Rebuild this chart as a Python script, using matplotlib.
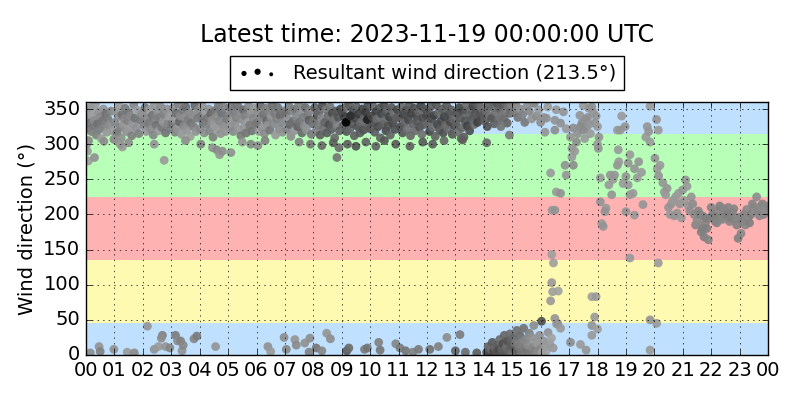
import matplotlib
matplotlib.use("Agg")
import matplotlib.pyplot as plt
import numpy as np

plt.style.use("classic")

# ---- northerly band, 00-16 UTC (time in hours, direction in deg, gray level 0=black 1=white)
north_t = [
    0.01, 0.04, 0.07, 0.09, 0.12, 0.16, 0.19, 0.22, 0.26, 0.29, 0.33, 0.36, 0.40, 0.43, 0.47, 0.51, 0.54, 0.58, 0.61, 0.65, 0.69, 0.73, 0.77, 0.82, 0.88, 0.94, 0.03, 0.05, 0.08, 0.30, 0.63, 0.98,
    1.02, 1.05, 1.09, 1.13, 1.16, 1.20, 1.24, 1.27, 1.31, 1.35, 1.38, 1.42, 1.46, 1.50, 1.53, 1.57, 1.61, 1.65, 1.68, 1.72, 1.77, 1.81, 1.86, 1.91, 1.96, 1.00, 1.28, 1.50, 1.20,
    2.01, 2.05, 2.08, 2.12, 2.17, 2.21, 2.24, 2.28, 2.33, 2.37, 2.40, 2.44, 2.48, 2.52, 2.56, 2.60, 2.63, 2.67, 2.71, 2.75, 2.80, 2.84, 2.88, 2.93, 2.97, 2.40, 2.75,
    3.02, 3.06, 3.10, 3.13, 3.17, 3.21, 3.25, 3.29, 3.32, 3.36, 3.40, 3.44, 3.48, 3.51, 3.55, 3.59, 3.63, 3.67, 3.70, 3.74, 3.79, 3.83, 3.87, 3.92, 3.96, 3.50,
    4.01, 4.05, 4.09, 4.12, 4.16, 4.20, 4.24, 4.28, 4.32, 4.35, 4.39, 4.43, 4.47, 4.51, 4.55, 4.58, 4.62, 4.66, 4.70, 4.74, 4.78, 4.83, 4.87, 4.91, 4.96, 4.04, 4.45, 4.60, 4.70, 4.80,
    5.02, 5.06, 5.10, 5.14, 5.18, 5.21, 5.25, 5.29, 5.33, 5.37, 5.41, 5.45, 5.49, 5.53, 5.56, 5.60, 5.64, 5.68, 5.72, 5.76, 5.80, 5.84, 5.89, 5.93, 5.97, 5.10, 5.80, 5.50,
    6.01, 6.05, 6.09, 6.13, 6.16, 6.20, 6.24, 6.28, 6.32, 6.36, 6.40, 6.43, 6.47, 6.51, 6.55, 6.59, 6.63, 6.67, 6.71, 6.75, 6.79, 6.84, 6.88, 6.92, 6.96, 6.05, 6.30,
    7.02, 7.06, 7.10, 7.14, 7.17, 7.21, 7.25, 7.29, 7.33, 7.37, 7.41, 7.45, 7.49, 7.52, 7.56, 7.60, 7.64, 7.68, 7.72, 7.76, 7.80, 7.85, 7.89, 7.93, 7.97, 7.50, 7.90,
    8.01, 8.05, 8.09, 8.13, 8.17, 8.20, 8.24, 8.28, 8.32, 8.36, 8.40, 8.44, 8.48, 8.52, 8.55, 8.59, 8.63, 8.67, 8.71, 8.75, 8.79, 8.83, 8.88, 8.92, 8.96, 8.30, 8.70, 8.90, 8.83,
    9.02, 9.05, 9.09, 9.13, 9.17, 9.21, 9.25, 9.29, 9.33, 9.36, 9.40, 9.44, 9.48, 9.52, 9.56, 9.60, 9.64, 9.68, 9.72, 9.76, 9.80, 9.84, 9.88, 9.92, 9.96, 9.15, 9.90, 9.30, 9.20, 9.50, 9.85,
    10.01, 10.05, 10.09, 10.13, 10.16, 10.20, 10.24, 10.28, 10.32, 10.36, 10.40, 10.44, 10.48, 10.52, 10.56, 10.59, 10.63, 10.67, 10.71, 10.75, 10.79, 10.83, 10.88, 10.92, 10.96, 10.20, 10.50, 10.90,
    11.02, 11.06, 11.10, 11.14, 11.18, 11.22, 11.26, 11.30, 11.34, 11.38, 11.42, 11.46, 11.50, 11.54, 11.58, 11.62, 11.66, 11.70, 11.74, 11.78, 11.82, 11.86, 11.90, 11.94, 11.98, 11.40, 11.85,
    12.01, 12.05, 12.09, 12.13, 12.17, 12.21, 12.25, 12.29, 12.33, 12.37, 12.41, 12.45, 12.49, 12.53, 12.57, 12.61, 12.65, 12.69, 12.73, 12.77, 12.81, 12.85, 12.89, 12.93, 12.97, 12.60, 12.20,
    13.02, 13.06, 13.10, 13.14, 13.18, 13.22, 13.26, 13.30, 13.34, 13.38, 13.42, 13.46, 13.50, 13.54, 13.58, 13.62, 13.66, 13.70, 13.74, 13.78, 13.82, 13.86, 13.90, 13.94, 13.98, 13.20, 13.25,
    14.03, 14.08, 14.12, 14.17, 14.22, 14.27, 14.32, 14.37, 14.42, 14.47, 14.52, 14.57, 14.62, 14.67, 14.72, 14.77, 14.82, 14.87, 14.92, 14.97, 14.10, 14.90, 14.60,
    15.05, 15.12, 15.20, 15.28, 15.36, 15.44, 15.52, 15.60, 15.68, 15.77, 15.85, 15.93,
]
north_dir = [
    338, 322, 345, 305, 330, 352, 318, 341, 326, 334, 357, 313, 329, 346, 321, 339, 308, 333, 350, 325, 343, 317, 336, 328, 347, 319, 300, 290, 276, 281, 304, 307,
    331, 347, 316, 339, 355, 324, 309, 342, 328, 336, 351, 318, 333, 345, 321, 340, 312, 329, 356, 337, 323, 348, 315, 334, 343, 307, 296, 302, 300,
    344, 326, 352, 318, 337, 330, 349, 321, 341, 313, 356, 335, 327, 346, 319, 338, 353, 324, 332, 343, 316, 350, 329, 340, 322, 300, 277,
    329, 351, 336, 317, 344, 323, 357, 332, 340, 314, 348, 326, 338, 353, 320, 335, 345, 311, 330, 342, 325, 355, 318, 337, 349, 305,
    322, 340, 355, 331, 316, 346, 328, 337, 350, 319, 343, 334, 310, 326, 348, 339, 321, 356, 333, 315, 344, 327, 352, 318, 336, 300, 295, 292, 285, 290,
    341, 325, 353, 333, 318, 347, 329, 338, 356, 321, 344, 312, 335, 349, 324, 340, 316, 331, 354, 327, 343, 319, 337, 351, 328, 288, 300, 303,
    330, 346, 318, 355, 337, 324, 342, 315, 351, 333, 327, 348, 320, 339, 356, 329, 344, 313, 336, 352, 322, 341, 331, 317, 347, 298, 305,
    343, 321, 336, 354, 328, 311, 347, 333, 319, 350, 339, 325, 356, 331, 345, 316, 338, 326, 352, 320, 341, 334, 348, 314, 329, 303, 300,
    334, 352, 318, 341, 327, 346, 313, 337, 355, 323, 331, 349, 316, 340, 328, 353, 321, 344, 335, 309, 347, 326, 338, 319, 350, 298, 302, 295, 281,
    345, 327, 339, 352, 318, 334, 356, 322, 341, 329, 348, 312, 337, 353, 325, 343, 316, 331, 350, 320, 338, 346, 323, 355, 333, 331, 335, 340, 300, 297, 303,
    322, 340, 354, 331, 317, 346, 336, 325, 351, 309, 343, 328, 356, 334, 319, 348, 326, 339, 313, 352, 330, 344, 321, 337, 349, 297, 305, 300,
    338, 325, 353, 316, 342, 331, 348, 321, 335, 356, 312, 344, 329, 351, 319, 340, 333, 346, 324, 355, 314, 337, 328, 350, 341, 297, 303,
    347, 330, 318, 353, 336, 324, 341, 311, 356, 328, 345, 320, 333, 350, 316, 339, 327, 355, 322, 343, 332, 349, 314, 336, 326, 305, 300,
    329, 344, 317, 352, 337, 323, 348, 310, 333, 356, 326, 341, 319, 349, 335, 354, 328, 344, 339, 331, 357, 346, 336, 351, 342, 308, 306,
    333, 348, 325, 356, 340, 337, 352, 329, 345, 358, 334, 350, 341, 355, 338, 347, 330, 353, 344, 357, 302, 313, 325,
    345, 356, 338, 350, 342, 331, 354, 347, 336, 358, 340, 349,
]
north_gray = [
    0.55, 0.48, 0.60, 0.52, 0.45, 0.58, 0.50, 0.62, 0.47, 0.55, 0.60, 0.50, 0.44, 0.57, 0.49, 0.53, 0.61, 0.46, 0.58, 0.51, 0.44, 0.59, 0.48, 0.55, 0.52, 0.60, 0.58, 0.60, 0.62, 0.56, 0.55, 0.52,
    0.52, 0.58, 0.47, 0.55, 0.61, 0.50, 0.56, 0.44, 0.59, 0.53, 0.48, 0.57, 0.51, 0.46, 0.60, 0.54, 0.49, 0.58, 0.52, 0.45, 0.56, 0.61, 0.50, 0.47, 0.55, 0.57, 0.60, 0.55, 0.58,
    0.57, 0.50, 0.45, 0.59, 0.53, 0.48, 0.61, 0.55, 0.46, 0.52, 0.58, 0.50, 0.44, 0.56, 0.60, 0.49, 0.54, 0.47, 0.58, 0.51, 0.45, 0.57, 0.52, 0.60, 0.48, 0.58, 0.60,
    0.46, 0.55, 0.60, 0.51, 0.43, 0.57, 0.50, 0.38, 0.54, 0.59, 0.47, 0.52, 0.56, 0.42, 0.58, 0.49, 0.53, 0.61, 0.45, 0.55, 0.50, 0.40, 0.57, 0.48, 0.53, 0.55,
    0.53, 0.48, 0.58, 0.44, 0.55, 0.61, 0.50, 0.46, 0.57, 0.52, 0.41, 0.56, 0.49, 0.59, 0.45, 0.54, 0.60, 0.47, 0.52, 0.57, 0.43, 0.55, 0.50, 0.58, 0.46, 0.50, 0.56, 0.53, 0.58, 0.55,
    0.50, 0.56, 0.45, 0.60, 0.53, 0.48, 0.57, 0.51, 0.44, 0.59, 0.54, 0.47, 0.55, 0.42, 0.58, 0.50, 0.46, 0.61, 0.53, 0.48, 0.56, 0.45, 0.52, 0.59, 0.49, 0.56, 0.52, 0.58,
    0.47, 0.55, 0.60, 0.42, 0.52, 0.57, 0.45, 0.54, 0.49, 0.40, 0.58, 0.51, 0.46, 0.56, 0.43, 0.53, 0.48, 0.59, 0.50, 0.44, 0.55, 0.41, 0.52, 0.57, 0.47, 0.55, 0.50,
    0.44, 0.52, 0.57, 0.48, 0.40, 0.55, 0.50, 0.43, 0.58, 0.46, 0.53, 0.38, 0.51, 0.45, 0.56, 0.41, 0.49, 0.54, 0.42, 0.57, 0.47, 0.36, 0.52, 0.48, 0.44, 0.50, 0.45,
    0.45, 0.38, 0.50, 0.33, 0.47, 0.41, 0.36, 0.52, 0.30, 0.44, 0.39, 0.48, 0.35, 0.42, 0.31, 0.46, 0.37, 0.29, 0.43, 0.40, 0.34, 0.49, 0.32, 0.38, 0.27, 0.40, 0.36, 0.42, 0.45,
    0.30, 0.38, 0.25, 0.42, 0.33, 0.28, 0.36, 0.40, 0.22, 0.34, 0.29, 0.37, 0.26, 0.39, 0.31, 0.24, 0.35, 0.41, 0.27, 0.32, 0.38, 0.23, 0.36, 0.30, 0.34, 0.00, 0.12, 0.18, 0.36, 0.32, 0.38,
    0.34, 0.27, 0.40, 0.31, 0.36, 0.24, 0.42, 0.29, 0.33, 0.38, 0.26, 0.35, 0.30, 0.41, 0.28, 0.37, 0.32, 0.25, 0.39, 0.34, 0.28, 0.43, 0.31, 0.36, 0.27, 0.38, 0.33, 0.35,
    0.36, 0.29, 0.41, 0.33, 0.26, 0.38, 0.31, 0.44, 0.28, 0.35, 0.40, 0.24, 0.37, 0.30, 0.42, 0.27, 0.34, 0.39, 0.32, 0.25, 0.43, 0.29, 0.36, 0.33, 0.28, 0.37, 0.34,
    0.32, 0.40, 0.27, 0.36, 0.30, 0.43, 0.25, 0.38, 0.33, 0.28, 0.41, 0.35, 0.29, 0.37, 0.31, 0.26, 0.39, 0.34, 0.42, 0.30, 0.27, 0.36, 0.33, 0.40, 0.28, 0.40, 0.36,
    0.38, 0.31, 0.44, 0.27, 0.35, 0.40, 0.29, 0.36, 0.33, 0.42, 0.26, 0.37, 0.30, 0.39, 0.34, 0.28, 0.41, 0.32, 0.36, 0.25, 0.38, 0.33, 0.30, 0.43, 0.35, 0.40, 0.36,
    0.36, 0.42, 0.31, 0.39, 0.45, 0.34, 0.40, 0.37, 0.44, 0.33, 0.41, 0.38, 0.46, 0.35, 0.43, 0.48, 0.39, 0.45, 0.42, 0.50, 0.40, 0.48, 0.45,
    0.48, 0.52, 0.45, 0.55, 0.50, 0.47, 0.56, 0.53, 0.58, 0.51, 0.55, 0.60,
]

# ---- directions just past north (0-45 deg), 00-16.5 UTC
low_t = [
    0.15, 0.46, 0.50, 0.98, 1.45, 1.70, 2.16, 2.40, 2.55, 2.69, 2.65, 2.80, 2.95, 3.15, 3.22, 3.33, 3.38, 3.42, 3.80, 3.90,
    4.56, 6.40, 6.50, 6.97, 7.05, 7.35, 7.40, 7.70, 7.85, 7.88, 8.10, 8.30, 8.47, 8.60, 9.18, 9.25, 9.80, 9.90, 10.30, 10.35,
    10.90, 11.05, 11.25, 11.50, 11.70, 12.10, 12.40, 12.70, 13.00, 13.16, 13.35, 13.75,
    14.10, 14.15, 14.20, 14.26, 14.30, 14.35, 14.40, 14.44, 14.48, 14.52, 14.56, 14.60, 14.64, 14.68, 14.72, 14.76, 14.80, 14.84, 14.88, 14.92,
    14.96, 15.00, 15.04, 15.08, 15.12, 15.16, 15.20, 15.24, 15.28, 15.32, 15.36, 15.40, 15.44, 15.48, 15.52, 15.56, 15.60, 15.64, 15.68, 15.72,
    15.76, 15.80, 15.84, 15.88, 15.92, 15.96, 16.00, 16.05, 16.10, 16.15, 16.20, 16.26, 16.32, 16.38, 16.44,
]
low_dir = [
    3, 12, 5, 8, 4, 3, 41, 8, 12, 28, 24, 12, 10, 28, 20, 20, 6, 14, 23, 27,
    12, 12, 5, 25, 8, 22, 14, 17, 4, 24, 10, 6, 31, 23, 6, 10, 8, 10, 18, 7,
    16, 10, 6, 4, 8, 8, 12, 25, 6, 29, 4, 3,
    4, 12, 2, 8, 18, 5, 10, 3, 14, 7, 22, 1, 9, 16, 28, 4, 11, 20, 6, 30,
    13, 2, 24, 8, 17, 35, 5, 12, 27, 3, 19, 38, 9, 22, 6, 14, 31, 2, 25, 11,
    42, 7, 18, 3, 15, 28, 9, 4, 20, 12, 6, 32, 16, 24, 10,
]
low_gray = [
    0.55, 0.58, 0.50, 0.56, 0.60, 0.54, 0.58, 0.57, 0.60, 0.50, 0.55, 0.58, 0.52, 0.48, 0.55, 0.50, 0.57, 0.53, 0.52, 0.48,
    0.58, 0.56, 0.60, 0.55, 0.52, 0.58, 0.54, 0.56, 0.50, 0.55, 0.46, 0.52, 0.58, 0.55, 0.35, 0.42, 0.48, 0.45, 0.50, 0.46,
    0.52, 0.48, 0.45, 0.50, 0.47, 0.44, 0.50, 0.55, 0.38, 0.48, 0.42, 0.36,
    0.32, 0.38, 0.30, 0.42, 0.35, 0.28, 0.40, 0.33, 0.37, 0.30, 0.42, 0.34, 0.38, 0.31, 0.40, 0.36, 0.44, 0.33, 0.39, 0.42,
    0.37, 0.45, 0.40, 0.35, 0.47, 0.43, 0.39, 0.48, 0.42, 0.46, 0.50, 0.44, 0.48, 0.52, 0.45, 0.55, 0.50, 0.48, 0.57, 0.53,
    0.55, 0.50, 0.58, 0.54, 0.60, 0.56, 0.52, 0.62, 0.58, 0.60, 0.62, 0.57, 0.60, 0.63, 0.59,
]

# ---- veering to south-west, 16-24 UTC
veer_t = [
    16.00, 16.10, 16.20, 16.25, 16.15, 16.50, 16.55, 16.50, 16.80, 16.90, 16.70,
    17.15, 17.38, 17.50, 17.70, 17.80, 17.60, 17.55, 17.26, 17.10, 17.10,
    16.86, 17.15, 16.90, 16.55, 16.70, 16.40, 16.50, 16.35, 17.45, 17.65,
    17.75, 17.85, 17.30, 17.50, 17.05, 17.20, 17.90, 17.40, 17.60, 17.70,
    16.39, 16.45, 16.39, 16.42, 16.62, 16.35, 16.03, 16.50, 16.56, 16.60,
    16.70, 17.05, 17.40, 17.60, 17.80, 17.80, 17.90, 18.00, 17.80, 17.95,
    17.95, 18.00, 18.05, 18.00, 18.03, 18.10, 18.10, 18.30, 18.26, 18.15,
    18.20, 18.40, 18.45, 18.55, 18.50, 18.70, 18.80, 18.85, 18.97, 18.73,
    18.70, 18.75, 18.60, 18.90, 19.00, 19.08, 19.14, 19.25, 19.00, 19.30,
    19.14, 19.08, 19.14, 19.30, 19.40, 19.45, 19.55, 19.60, 19.70, 19.75,
    19.85, 19.80, 19.85, 20.08, 20.14, 20.02, 20.10, 20.15, 20.20, 20.14,
    19.85, 20.08, 19.85,
    20.30, 20.35, 20.45, 20.40, 20.50, 20.55, 20.60, 20.65, 20.70, 20.75,
    20.80, 20.85, 20.90, 20.95, 21.00, 21.05, 21.10, 21.15, 21.20, 21.25,
    21.30, 21.35, 21.40, 21.45, 21.50, 21.55, 21.60, 21.60, 21.65, 21.70,
    21.70, 21.75, 21.80, 21.80, 21.85, 21.90, 21.95, 22.00, 22.05, 22.10,
    22.15, 22.20, 22.25, 22.30, 22.35, 22.40, 22.45, 22.50, 22.55, 22.60,
    22.65, 22.70, 22.75, 22.80, 22.85, 22.90, 22.95, 23.00, 23.05, 23.10,
    23.15, 23.20, 23.25, 23.30, 23.35, 23.40, 23.45, 23.50, 23.55, 23.60,
    23.65, 23.70, 23.75, 23.80, 23.85, 23.90, 23.95, 23.98, 24.00,
]
veer_dir = [
    331, 338, 337, 353, 317, 334, 349, 320, 346, 322, 330,
    323, 341, 355, 351, 353, 323, 308, 303, 294, 282,
    270, 270, 256, 232, 230, 206, 206, 259, 330, 338,
    315, 345, 315, 320, 310, 290, 330, 325, 335, 328,
    143, 131, 103, 90, 91, 77, 48, 52, 44, 45,
    38, 18, 15, 7, 28, 42, 54, 37, 83, 83,
    340, 325, 310, 300, 294, 252, 218, 209, 204, 187,
    183, 242, 256, 250, 228, 320, 320, 340, 325, 292,
    270, 275, 256, 244, 254, 242, 228, 230, 204, 199,
    138, 273, 285, 265, 252, 275, 260, 214, 310, 325,
    303, 318, 354, 335, 320, 280, 265, 255, 270, 131,
    50, 45, 7,
    245, 232, 237, 228, 210, 200, 215, 220, 198, 225,
    202, 230, 215, 195, 235, 220, 249, 240, 212, 205,
    225, 215, 200, 185, 192, 205, 185, 200, 175, 198,
    180, 168, 188, 195, 180, 164, 195, 210, 200, 198,
    190, 188, 205, 212, 196, 193, 208, 202, 199, 210,
    190, 195, 203, 208, 195, 185, 166, 196, 173, 190,
    200, 185, 207, 195, 188, 200, 215, 210, 204, 225,
    205, 198, 212, 215, 200, 210, 208, 212, 204,
]
veer_gray = [
    0.55, 0.58, 0.56, 0.60, 0.58, 0.57, 0.60, 0.55, 0.58, 0.60, 0.56,
    0.55, 0.58, 0.60, 0.58, 0.56, 0.57, 0.60, 0.55, 0.58, 0.60,
    0.57, 0.55, 0.58, 0.60, 0.57, 0.60, 0.58, 0.60, 0.55, 0.57,
    0.60, 0.58, 0.56, 0.55, 0.58, 0.60, 0.57, 0.54, 0.56, 0.58,
    0.62, 0.62, 0.60, 0.62, 0.63, 0.60, 0.30, 0.58, 0.60, 0.58,
    0.60, 0.55, 0.60, 0.58, 0.60, 0.58, 0.60, 0.62, 0.62, 0.60,
    0.58, 0.60, 0.58, 0.60, 0.58, 0.60, 0.58, 0.60, 0.58, 0.60,
    0.58, 0.60, 0.58, 0.60, 0.58, 0.60, 0.58, 0.60, 0.58, 0.60,
    0.58, 0.60, 0.58, 0.60, 0.58, 0.60, 0.58, 0.60, 0.58, 0.60,
    0.60, 0.58, 0.60, 0.58, 0.60, 0.58, 0.60, 0.58, 0.60, 0.58,
    0.60, 0.58, 0.60, 0.58, 0.60, 0.58, 0.60, 0.58, 0.60, 0.60,
    0.58, 0.60, 0.60,
    0.58, 0.60, 0.58, 0.60, 0.58, 0.60, 0.58, 0.60, 0.58, 0.60,
    0.58, 0.60, 0.58, 0.60, 0.58, 0.60, 0.58, 0.60, 0.58, 0.56,
    0.58, 0.55, 0.55, 0.52, 0.55, 0.52, 0.55, 0.50, 0.50, 0.53,
    0.50, 0.50, 0.52, 0.50, 0.50, 0.52, 0.50, 0.52, 0.52, 0.50,
    0.50, 0.52, 0.52, 0.50, 0.50, 0.53, 0.53, 0.52, 0.50, 0.52,
    0.52, 0.50, 0.50, 0.52, 0.52, 0.50, 0.50, 0.53, 0.53, 0.50,
    0.52, 0.52, 0.53, 0.53, 0.50, 0.50, 0.52, 0.52, 0.55, 0.55,
    0.53, 0.53, 0.55, 0.52, 0.53, 0.55, 0.55, 0.53, 0.55,
]

resultant_dir = 213.5
latest = "2023-11-19 00:00:00 UTC"

# direction sectors: (from, to, colour)
sectors = [(0, 45, "#bfe0ff"), (45, 135, "#fffab2"), (135, 225, "#ffb2b2"),
           (225, 315, "#b8ffb8"), (315, 360, "#bfe0ff")]

hour_labels = ["00", "01", "02", "03", "04", "05", "06", "07", "08", "09", "10", "11",
               "12", "13", "14", "15", "16", "17", "18", "19", "20", "21", "22", "23", "00"]

hours = np.concatenate([north_t, low_t, veer_t])
direction = np.concatenate([north_dir, low_dir, veer_dir])
gray = np.concatenate([north_gray, low_gray, veer_gray])

fig = plt.figure(figsize=(8, 4), dpi=100, facecolor="white")
ax = fig.add_axes([0.1075, 0.1125, 0.8525, 0.6325])

for lo, hi, col in sectors:
    ax.axhspan(lo, hi, color=col, lw=0)

ax.scatter(hours, direction, c=gray, cmap="gray", vmin=0, vmax=1,
           s=40, edgecolors="none", alpha=0.9)

# legend handle: black dots of three sizes like the original
h = ax.scatter([], [], c="k", edgecolors="none",
               label="Resultant wind direction (%.1f°)" % resultant_dir)
h.set_sizes([8, 20])
ax.legend(handles=[h], loc="lower center", bbox_to_anchor=(0.5, 1.0),
          scatterpoints=3, fontsize=14, borderaxespad=0.6)

ax.set_xlim(0, 24)
ax.set_ylim(0, 360)
ax.set_xticks(range(25))
ax.set_xticklabels(hour_labels)
ax.set_yticks(range(0, 351, 50))
ax.tick_params(labelsize=14)
ax.set_ylabel("Wind direction (°)", fontsize=14)
ax.grid(True)

fig.text(0.534, 0.912, "Latest time: " + latest, ha="center", va="center", fontsize=17)

fig.savefig("out.png", dpi=100, facecolor="white")
